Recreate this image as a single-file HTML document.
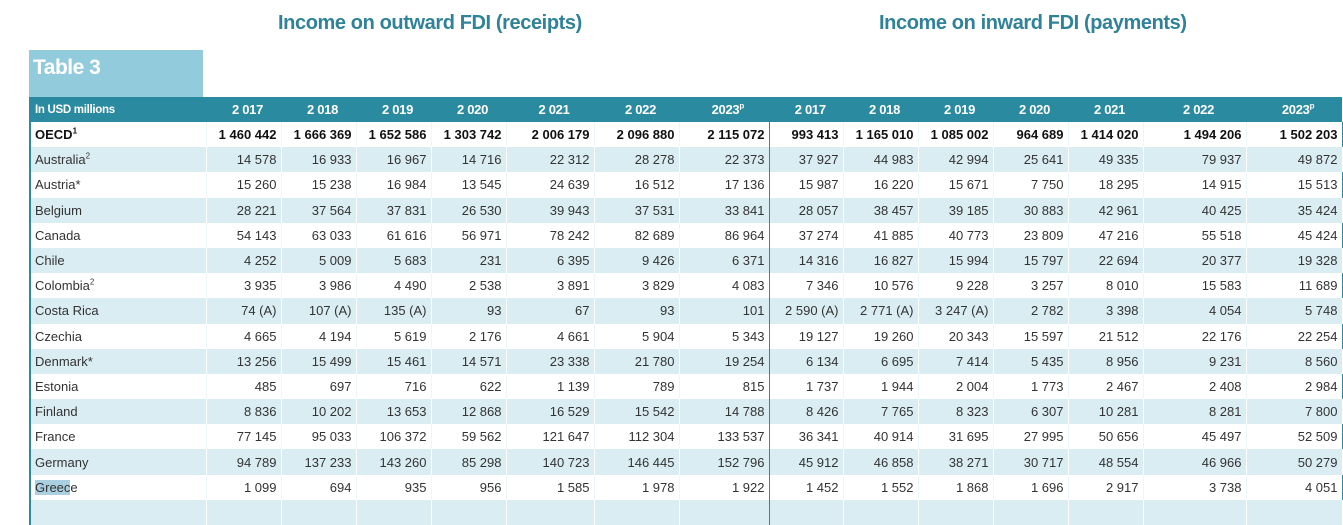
<!DOCTYPE html>
<html><head><meta charset="utf-8"><style>
body{margin:0;width:1343px;height:505px;overflow:hidden;background:#fff;font-family:"Liberation Sans",Arial,sans-serif;position:relative}
.t{position:absolute;top:12px;font-size:20px;font-weight:bold;color:#2f8297;letter-spacing:-0.4px;white-space:nowrap}
#tb{position:absolute;left:29px;top:50px;width:174px;height:47px;background:#92cbdb;color:#fff;font-weight:bold;font-size:21px;letter-spacing:-0.5px;line-height:36px;padding-left:4px;box-sizing:border-box}
table{position:absolute;left:29px;top:97px;border-collapse:collapse;table-layout:fixed;border-left:2px solid #2a8aa0}
td{height:25.2px;padding:0 4px 0 4px;font-size:13px;color:#333;text-align:right;white-space:nowrap;border-right:1px solid #eef6f9;box-sizing:border-box;overflow:hidden}
td:first-child{text-align:left}
tr.h td{background:#2a8aa0;color:#fff;font-weight:bold;font-size:13px;letter-spacing:-0.3px;height:25px;border-right:none;text-align:center;padding-left:12px}
tr.h td:first-child{font-size:11.5px;text-align:left;padding-left:4px}
tr.o td{font-weight:bold;color:#111}
tr.b td{background:#daedf3;border-right:1px solid #fff}
td.d{border-right:1.5px solid #2a8aa0 !important}
td:last-child{border-right:1.5px solid #2a8aa0}
tr.h td:last-child{border-right:none}
sup{font-size:8px;line-height:0}
</style></head><body>
<div class="t" style="left:278px">Income on outward FDI (receipts)</div>
<div class="t" style="left:879px">Income on inward FDI (payments)</div>
<div id="tb">Table 3</div>
<table>
<colgroup><col style="width:176px"><col style="width:75px"><col style="width:75px"><col style="width:75px"><col style="width:75px"><col style="width:88px"><col style="width:85px"><col style="width:90px"><col style="width:74px"><col style="width:75px"><col style="width:75px"><col style="width:75px"><col style="width:75px"><col style="width:103px"><col style="width:96px"></colgroup>
<tr class="h"><td>In USD millions</td><td>2 017</td><td>2 018</td><td>2 019</td><td>2 020</td><td>2 021</td><td>2 022</td><td class="d">2023<sup>p</sup></td><td>2 017</td><td>2 018</td><td>2 019</td><td>2 020</td><td>2 021</td><td>2 022</td><td>2023<sup>p</sup></td></tr>
<tr class="o"><td>OECD<sup>1</sup></td><td>1 460 442</td><td>1 666 369</td><td>1 652 586</td><td>1 303 742</td><td>2 006 179</td><td>2 096 880</td><td class="d">2 115 072</td><td>993 413</td><td>1 165 010</td><td>1 085 002</td><td>964 689</td><td>1 414 020</td><td>1 494 206</td><td>1 502 203</td></tr>
<tr class="b"><td>Australia<sup>2</sup></td><td>14 578</td><td>16 933</td><td>16 967</td><td>14 716</td><td>22 312</td><td>28 278</td><td class="d">22 373</td><td>37 927</td><td>44 983</td><td>42 994</td><td>25 641</td><td>49 335</td><td>79 937</td><td>49 872</td></tr>
<tr><td>Austria*</td><td>15 260</td><td>15 238</td><td>16 984</td><td>13 545</td><td>24 639</td><td>16 512</td><td class="d">17 136</td><td>15 987</td><td>16 220</td><td>15 671</td><td>7 750</td><td>18 295</td><td>14 915</td><td>15 513</td></tr>
<tr class="b"><td>Belgium</td><td>28 221</td><td>37 564</td><td>37 831</td><td>26 530</td><td>39 943</td><td>37 531</td><td class="d">33 841</td><td>28 057</td><td>38 457</td><td>39 185</td><td>30 883</td><td>42 961</td><td>40 425</td><td>35 424</td></tr>
<tr><td>Canada</td><td>54 143</td><td>63 033</td><td>61 616</td><td>56 971</td><td>78 242</td><td>82 689</td><td class="d">86 964</td><td>37 274</td><td>41 885</td><td>40 773</td><td>23 809</td><td>47 216</td><td>55 518</td><td>45 424</td></tr>
<tr class="b"><td>Chile</td><td>4 252</td><td>5 009</td><td>5 683</td><td>231</td><td>6 395</td><td>9 426</td><td class="d">6 371</td><td>14 316</td><td>16 827</td><td>15 994</td><td>15 797</td><td>22 694</td><td>20 377</td><td>19 328</td></tr>
<tr><td>Colombia<sup>2</sup></td><td>3 935</td><td>3 986</td><td>4 490</td><td>2 538</td><td>3 891</td><td>3 829</td><td class="d">4 083</td><td>7 346</td><td>10 576</td><td>9 228</td><td>3 257</td><td>8 010</td><td>15 583</td><td>11 689</td></tr>
<tr class="b"><td>Costa Rica</td><td>74 (A)</td><td>107 (A)</td><td>135 (A)</td><td>93</td><td>67</td><td>93</td><td class="d">101</td><td>2 590 (A)</td><td>2 771 (A)</td><td>3 247 (A)</td><td>2 782</td><td>3 398</td><td>4 054</td><td>5 748</td></tr>
<tr><td>Czechia</td><td>4 665</td><td>4 194</td><td>5 619</td><td>2 176</td><td>4 661</td><td>5 904</td><td class="d">5 343</td><td>19 127</td><td>19 260</td><td>20 343</td><td>15 597</td><td>21 512</td><td>22 176</td><td>22 254</td></tr>
<tr class="b"><td>Denmark*</td><td>13 256</td><td>15 499</td><td>15 461</td><td>14 571</td><td>23 338</td><td>21 780</td><td class="d">19 254</td><td>6 134</td><td>6 695</td><td>7 414</td><td>5 435</td><td>8 956</td><td>9 231</td><td>8 560</td></tr>
<tr><td>Estonia</td><td>485</td><td>697</td><td>716</td><td>622</td><td>1 139</td><td>789</td><td class="d">815</td><td>1 737</td><td>1 944</td><td>2 004</td><td>1 773</td><td>2 467</td><td>2 408</td><td>2 984</td></tr>
<tr class="b"><td>Finland</td><td>8 836</td><td>10 202</td><td>13 653</td><td>12 868</td><td>16 529</td><td>15 542</td><td class="d">14 788</td><td>8 426</td><td>7 765</td><td>8 323</td><td>6 307</td><td>10 281</td><td>8 281</td><td>7 800</td></tr>
<tr><td>France</td><td>77 145</td><td>95 033</td><td>106 372</td><td>59 562</td><td>121 647</td><td>112 304</td><td class="d">133 537</td><td>36 341</td><td>40 914</td><td>31 695</td><td>27 995</td><td>50 656</td><td>45 497</td><td>52 509</td></tr>
<tr class="b"><td>Germany</td><td>94 789</td><td>137 233</td><td>143 260</td><td>85 298</td><td>140 723</td><td>146 445</td><td class="d">152 796</td><td>45 912</td><td>46 858</td><td>38 271</td><td>30 717</td><td>48 554</td><td>46 966</td><td>50 279</td></tr>
<tr><td><span style="background:#a9cfe0">Greec</span>e</td><td>1 099</td><td>694</td><td>935</td><td>956</td><td>1 585</td><td>1 978</td><td class="d">1 922</td><td>1 452</td><td>1 552</td><td>1 868</td><td>1 696</td><td>2 917</td><td>3 738</td><td>4 051</td></tr>
<tr class="b"><td>&nbsp;</td><td></td><td></td><td></td><td></td><td></td><td></td><td class="d"></td><td></td><td></td><td></td><td></td><td></td><td></td><td></td></tr>
</table>
</body></html>
